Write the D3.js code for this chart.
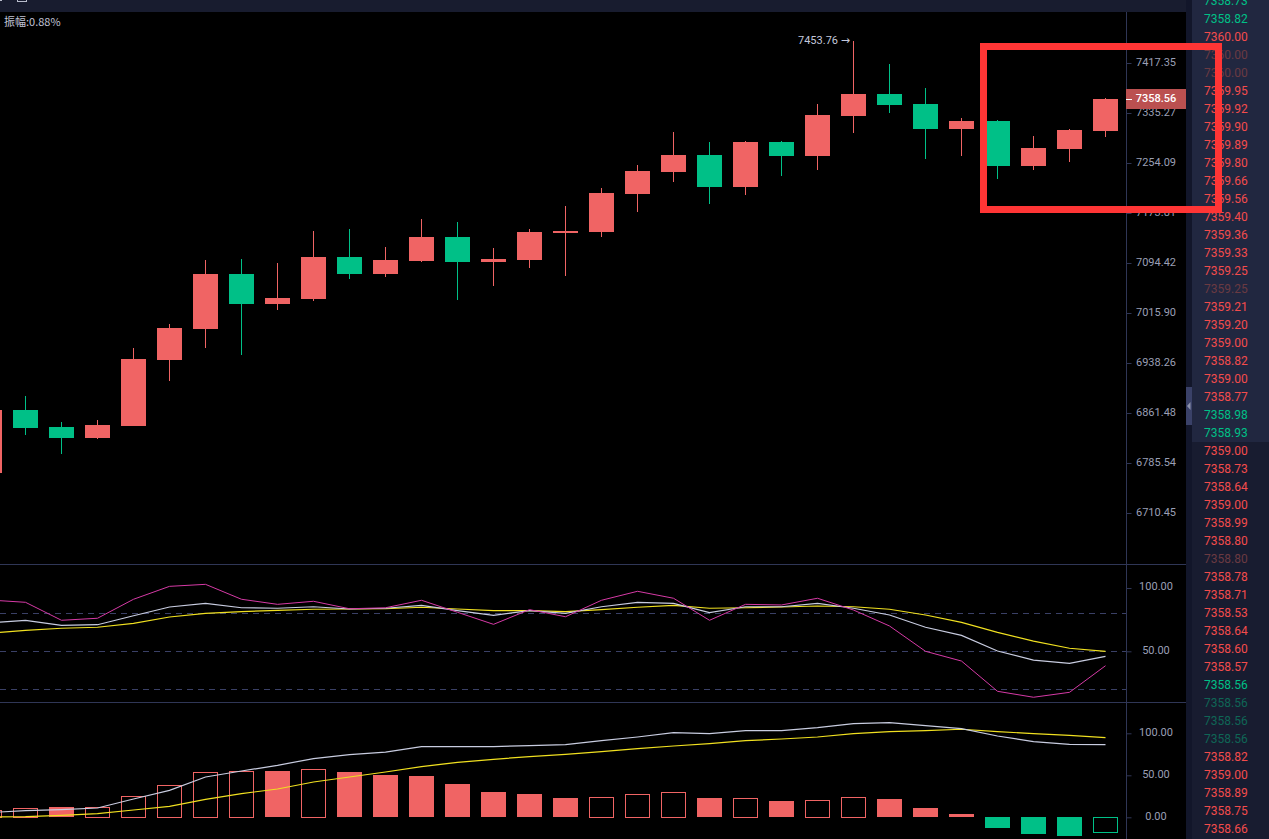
<!DOCTYPE html>
<html>
<head>
<meta charset="utf-8">
<script src="https://cdn.jsdelivr.net/npm/d3@7/dist/d3.min.js"></script>
<style>
html, body { margin: 0; padding: 0; background: #000; overflow: hidden; }
text { font-family: Roboto, sans-serif; }
</style>
</head>
<body>
<script>
// candles, oldest first (the first one is cut off by the left edge)
var opens = [6771.0, 6866.1, 6840.2, 6823.5, 6842.2, 6943.3, 6991.0, 7077.2, 7030.5, 7037.9, 7103.9, 7077.2, 7097.6, 7135.7, 7096.0, 7099.2, 7142.1, 7143.6, 7204.3, 7239.6, 7267.1, 7215.6, 7288.2, 7265.4, 7330.4, 7366.4, 7350.0, 7309.3, 7322.2, 7249.8, 7276.8, 7305.9];
var highs = [6871.5, 6887.5, 6848.3, 6850.4, 6961.5, 6998.8, 7099.2, 7100.8, 7094.5, 7145.2, 7147.9, 7119.4, 7164.3, 7159.5, 7117.6, 7148.9, 7185.0, 7214.0, 7250.9, 7304.4, 7288.6, 7289.8, 7289.8, 7350.0, 7453.76, 7415.7, 7376.3, 7327.1, 7323.9, 7297.9, 7309.3, 7360.4];
var lows = [6766.5, 6828.5, 6799.7, 6822.4, 6841.5, 6910.6, 6961.5, 6950.6, 7020.6, 7034.8, 7069.3, 7072.0, 7096.0, 7036.4, 7058.3, 7086.6, 7074.0, 7135.2, 7175.4, 7223.6, 7188.7, 7203.2, 7233.2, 7242.4, 7302.8, 7335.2, 7260.1, 7264.9, 7227.9, 7242.8, 7256.2, 7295.8];
var closes = [6866.1, 6838.7, 6823.5, 6843.2, 6944.4, 6992.6, 7077.2, 7030.5, 7039.5, 7103.9, 7077.2, 7099.2, 7135.7, 7096.0, 7100.8, 7143.6, 7145.2, 7205.9, 7241.2, 7267.1, 7215.6, 7288.2, 7265.4, 7332.0, 7366.4, 7348.4, 7309.3, 7322.2, 7249.3, 7278.4, 7307.6, 7358.56];

// KDJ panel
var kValues = [72.4, 74.5, 70.5, 71.0, 78.1, 85.0, 87.9, 84.4, 84.0, 85.2, 83.4, 84.0, 86.3, 82.1, 78.4, 82.1, 80.0, 85.2, 88.7, 87.9, 80.5, 85.2, 85.2, 87.9, 84.0, 78.7, 69.0, 62.6, 50.2, 43.1, 40.5, 46.0];
var dValues = [64.2, 66.6, 68.2, 69.0, 72.1, 77.1, 80.0, 81.3, 82.4, 83.2, 83.4, 83.6, 84.8, 83.4, 82.1, 82.1, 81.3, 82.9, 84.8, 86.3, 84.0, 84.4, 85.0, 85.8, 85.2, 83.2, 78.7, 72.9, 65.0, 58.1, 52.4, 50.0];
var jValues = [90.5, 88.7, 74.5, 76.1, 91.1, 101.3, 102.9, 91.1, 87.1, 89.5, 83.6, 84.4, 90.3, 80.8, 71.3, 82.9, 77.3, 90.3, 97.4, 91.9, 74.5, 87.1, 86.6, 91.9, 82.6, 70.0, 50.0, 42.3, 18.4, 13.7, 17.6, 38.6];

// MACD panel
var difValues = [5.6, 8.0, 9.2, 11.1, 21.8, 32.1, 48.0, 55.1, 61.9, 69.9, 74.6, 77.7, 84.2, 84.2, 84.2, 85.4, 86.5, 91.3, 95.6, 100.8, 99.6, 103.2, 103.2, 106.8, 111.5, 112.7, 109.2, 105.6, 96.8, 90.1, 86.9, 86.5];
var deaValues = [0.4, 0.8, 2.4, 4.4, 8.7, 13.1, 21.4, 28.2, 33.7, 42.0, 48.0, 53.9, 60.4, 65.5, 69.0, 72.3, 75.0, 78.2, 81.8, 84.9, 87.7, 91.3, 93.2, 95.6, 99.6, 102.0, 103.2, 104.8, 102.0, 99.6, 97.6, 94.9];
var histValues = [8.3, 11.5, 11.9, 12.7, 25.8, 38.9, 54.4, 55.6, 54.8, 58.0, 53.6, 50.0, 48.8, 39.3, 29.8, 27.4, 22.6, 24.6, 28.2, 30.6, 22.6, 23.5, 19.0, 21.1, 24.6, 21.4, 10.7, 3.6, -12.7, -19.9, -22.3, -17.0];
var histHollow = [1, 1, 0, 1, 1, 1, 1, 1, 0, 1, 0, 0, 0, 0, 0, 0, 0, 1, 1, 1, 0, 1, 0, 1, 1, 0, 0, 0, 0, 0, 0, 1];

var priceTicks = [7417.35, 7335.27, 7254.09, 7173.81, 7094.42, 7015.90, 6938.26, 6861.48, 6785.54, 6710.45];
var kdjTicks = [100, 50];
var kdjGuides = [80, 50, 20];
var macdTicks = [100, 50, 0];
var lastPrice = 7358.56;
var maxPrice = 7453.76;
var amplitude = "振幅:0.88%";

// trade list on the right: price and side (u up, d down, dim variants fading out)
var tradePrices = ["7358.73", "7358.82", "7360.00", "7360.00", "7360.00", "7359.95", "7359.92", "7359.90", "7359.89", "7359.80", "7359.66", "7359.56", "7359.40", "7359.36", "7359.33", "7359.25", "7359.25", "7359.21", "7359.20", "7359.00", "7358.82", "7359.00", "7358.77", "7358.98", "7358.93", "7359.00", "7358.73", "7358.64", "7359.00", "7358.99", "7358.80", "7358.80", "7358.78", "7358.71", "7358.53", "7358.64", "7358.60", "7358.57", "7358.56", "7358.56", "7358.56", "7358.56", "7358.82", "7359.00", "7358.89", "7358.75", "7358.66"];
var tradeSides = ["d", "d", "u", "uDim", "uDim", "u", "u", "u", "u", "u", "u", "u", "u", "u", "u", "u", "uDim", "u", "u", "u", "u", "u", "u", "d", "d", "u", "u", "u", "u", "u", "u", "uDim", "u", "u", "u", "u", "u", "u", "d", "dDim", "dDim", "dDim", "u", "u", "u", "u", "u"];

var width = 1269, height = 839;
var axisX = 1126, plotRight = 1186, listLeft = 1192;
var red = "#f06464", green = "#00c087";
var gridColor = "#2f3656", axisText = "#9a9fb5";
var sideColors = { u: "#f44c4c", uDim: "#6b3a42", d: "#00c087", dDim: "#0f6656" };

var svg = d3.select("body").append("svg")
  .attr("width", width)
  .attr("height", height)
  .style("display", "block");

svg.append("rect").attr("width", width).attr("height", height).attr("fill", "#000");

var x = d3.scaleLinear().domain([0, opens.length - 1]).range([-10.5, 1105.5]);
var yPrice = d3.scaleLog().domain([7417.35, 6710.45]).range([63, 513]);
var yKdj = d3.scaleLinear().domain([100, 50]).range([588, 651.3]);
var yMacd = d3.scaleLinear().domain([100, 0]).range([733.3, 817.3]);

// chrome around the chart
svg.append("rect").attr("width", width).attr("height", 12).attr("fill", "#181c2f");
svg.append("rect").attr("x", plotRight).attr("width", listLeft - plotRight).attr("height", height).attr("fill", "#12162a");
svg.append("rect").attr("x", listLeft).attr("width", width - listLeft).attr("height", 442).attr("fill", "#212740");
svg.append("rect").attr("x", listLeft).attr("y", 442).attr("width", width - listLeft).attr("height", height - 442).attr("fill", "#181c30");
svg.append("rect").attr("x", plotRight).attr("y", 387).attr("width", listLeft - plotRight).attr("height", 38).attr("fill", "#3a4168");
svg.append("path").attr("d", "M1190.5,402 L1187,406 L1190.5,410 Z").attr("fill", "#8d93ad");
svg.append("rect").attr("x", 17.5).attr("y", -6).attr("width", 9).attr("height", 7.5)
  .attr("fill", "none").attr("stroke", "#b9bdcc");
svg.append("rect").attr("x", 0).attr("y", 0).attr("width", 2).attr("height", 1).attr("fill", "#b9bdcc");

// panel separators and the axis line
[564.5, 702.5].forEach(function(yy) {
  svg.append("line").attr("x1", 0).attr("x2", plotRight).attr("y1", yy).attr("y2", yy).attr("stroke", gridColor);
});

kdjGuides.forEach(function(v) {
  svg.append("line")
    .attr("x1", 0).attr("x2", axisX)
    .attr("y1", Math.round(yKdj(v)) + 0.5).attr("y2", Math.round(yKdj(v)) + 0.5)
    .attr("stroke", "#3a4066").attr("stroke-dasharray", "6,5");
});

// axes, labels are centred in the gutter
function drawAxis(scale, ticks, dy) {
  var g = svg.append("g")
    .attr("transform", "translate(" + (axisX + 0.5) + ",0)")
    .call(d3.axisRight(scale).tickValues(ticks).tickSize(5).tickSizeOuter(0).tickFormat(d3.format(".2f")));
  g.select(".domain").remove();
  g.selectAll("line").attr("stroke", gridColor);
  g.selectAll("text")
    .attr("x", 29.5)
    .attr("dy", dy)
    .attr("fill", axisText)
    .style("text-anchor", "middle")
    .style("font-size", "11px")
    .style("font-family", "Roboto, sans-serif");
  return g;
}
drawAxis(yPrice, priceTicks, "0.25em");
drawAxis(yKdj, kdjTicks, "0.16em");
drawAxis(yMacd, macdTicks, "0.16em");
svg.append("line").attr("x1", axisX + 0.5).attr("x2", axisX + 0.5).attr("y1", 12).attr("y2", height).attr("stroke", gridColor);

// candles
var candleData = d3.range(opens.length).map(function(i) {
  return { i: i, open: opens[i], high: highs[i], low: lows[i], close: closes[i] };
});
function candleColor(d) { return d.close >= d.open ? red : green; }

var candles = svg.append("g").attr("shape-rendering", "crispEdges")
  .selectAll("g").data(candleData).enter().append("g");

candles.append("line")
  .attr("x1", function(d) { return x(d.i); })
  .attr("x2", function(d) { return x(d.i); })
  .attr("y1", function(d) { return yPrice(d.high); })
  .attr("y2", function(d) { return yPrice(d.low); })
  .attr("stroke", candleColor);

candles.append("rect")
  .attr("x", function(d) { return x(d.i) - 12.5; })
  .attr("width", 25)
  .attr("y", function(d) { return Math.round(yPrice(Math.max(d.open, d.close))); })
  .attr("height", function(d) { return Math.max(1, Math.round(yPrice(Math.min(d.open, d.close))) - Math.round(yPrice(Math.max(d.open, d.close)))); })
  .attr("fill", candleColor);

// max marker, amplitude
var maxLabel = svg.append("text").attr("x", x(24) - 55.5).attr("y", yPrice(maxPrice) + 3.5)
  .attr("fill", "#c3c8dc").style("font-size", "11px").text(maxPrice.toFixed(2) + " ");
maxLabel.append("tspan").style("font-family", "'DejaVu Sans'").style("font-size", "11px").text("→");
svg.append("text").attr("x", 4).attr("y", 26)
  .attr("fill", "#c0c4d6").style("font-size", "11px")
  .style("font-family", "'Noto Sans CJK SC', Roboto, sans-serif").text(amplitude);

// kdj lines
function drawLine(values, scale, color, w) {
  var line = d3.line().x(function(d, i) { return x(i); }).y(function(d) { return scale(d); });
  svg.append("path").datum(values).attr("d", line).attr("fill", "none").attr("stroke", color).attr("stroke-width", w);
}
drawLine(dValues, yKdj, "#f0e020", 1.2);
drawLine(kValues, yKdj, "#c8cce0", 1.2);
drawLine(jValues, yKdj, "#d63aa6", 1);

// macd histogram then its lines
var histGroup = svg.append("g").attr("shape-rendering", "crispEdges");
histGroup.selectAll("rect").data(histValues).enter().append("rect")
  .attr("x", function(d, i) { return x(i) - (histHollow[i] ? 12 : 12.5); })
  .attr("width", function(d, i) { return histHollow[i] ? 24 : 25; })
  .attr("y", function(d, i) { return Math.round(yMacd(Math.max(d, 0))) + (histHollow[i] ? 0.5 : 0); })
  .attr("height", function(d) { return Math.abs(Math.round(yMacd(d)) - Math.round(yMacd(0))); })
  .attr("fill", function(d, i) { return histHollow[i] ? "none" : (d >= 0 ? red : green); })
  .attr("stroke", function(d, i) { return histHollow[i] ? (d >= 0 ? red : green) : "none"; });
drawLine(deaValues, yMacd, "#f0e020", 1.2);
drawLine(difValues, yMacd, "#c8cce0", 1.2);

// last price tag
var lastY = Math.round(yPrice(lastPrice));
svg.append("rect").attr("x", axisX).attr("y", lastY - 10).attr("width", plotRight - axisX).attr("height", 20).attr("fill", "#bb5050");
svg.append("line").attr("x1", axisX).attr("x2", axisX + 6).attr("y1", lastY + 0.5).attr("y2", lastY + 0.5).attr("stroke", "#fff");
svg.append("text").attr("x", axisX + 30).attr("y", lastY + 3)
  .attr("fill", "#fff").style("text-anchor", "middle").style("font-size", "11px").style("font-weight", 500).text(lastPrice.toFixed(2));

// trade list
var rowY = d3.scaleLinear().domain([0, 1]).range([0.5, 18.5]);
svg.append("g").selectAll("text").data(tradePrices).enter().append("text")
  .attr("x", 1204)
  .attr("y", function(d, i) { return rowY(i) + 4.5; })
  .attr("fill", function(d, i) { return sideColors[tradeSides[i]]; })
  .style("font-size", "12px")
  .text(function(d) { return d; });

// red highlight box drawn over everything
svg.append("rect").attr("x", 983.5).attr("y", 46.5).attr("width", 235).attr("height", 163)
  .attr("fill", "none").attr("stroke", "#ff3535").attr("stroke-width", 7);
</script>
</body>
</html>
